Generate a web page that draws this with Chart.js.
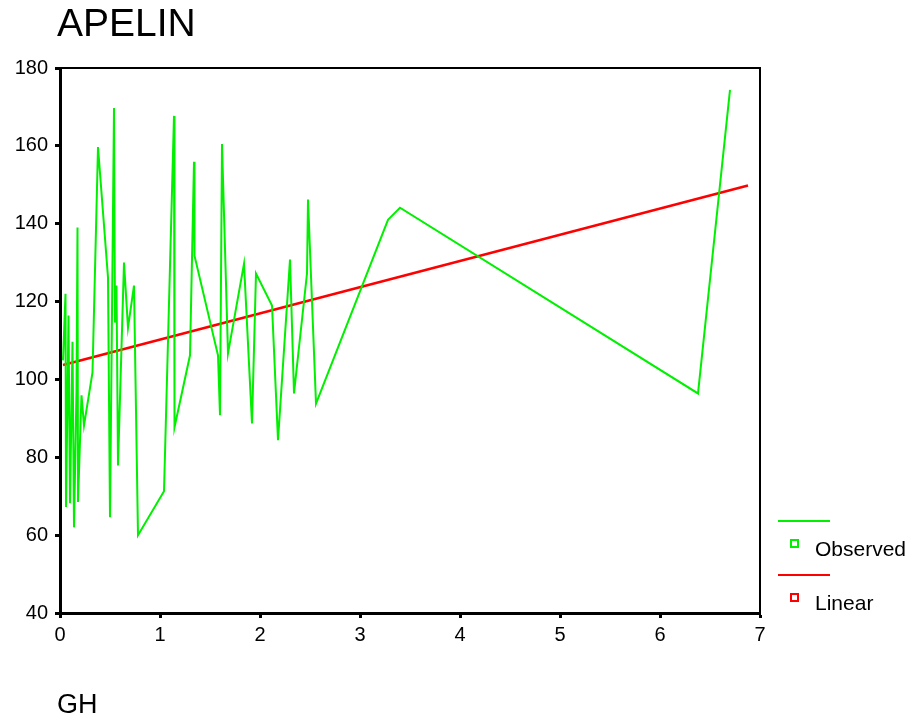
<!DOCTYPE html>
<html>
<head>
<meta charset="utf-8">
<script src="https://cdn.jsdelivr.net/npm/chart.js@4/dist/chart.umd.min.js"></script>
<style>
  body { margin: 0; background: #fff; }
  #wrap { width: 920px; height: 724px; }
</style>
</head>
<body>
<div id="wrap"><canvas id="myChart" width="920" height="724"></canvas></div>
<script>
// observed APELIN values, ordered by GH
var ghValues = [0.03, 0.055, 0.06, 0.075, 0.085, 0.10, 0.11, 0.125, 0.14, 0.165, 0.175, 0.18,
    0.215, 0.24, 0.325, 0.38, 0.48, 0.50, 0.54, 0.55, 0.565, 0.58, 0.64, 0.68, 0.74, 0.78,
    1.04, 1.14, 1.145, 1.30, 1.34, 1.345, 1.58, 1.60, 1.62, 1.68, 1.84, 1.92, 1.96, 2.12,
    2.18, 2.30, 2.34, 2.47, 2.48, 2.56, 3.28, 3.40, 6.38, 6.70];
var apelinValues = [104.9, 122, 67.2, 95.1, 116.4, 68.2, 84.4, 109.7, 62, 97.2, 139, 68.5,
    95.9, 88.2, 101.8, 159.7, 126.2, 64.6, 169.7, 114.6, 124.1, 77.9, 130, 113.3, 124.1, 60,
    71.3, 167.7, 87.7, 106.2, 155.9, 131.8, 106.2, 90.8, 160.5, 106.7, 129.7, 88.7, 127.2, 119,
    84.4, 130.8, 96.4, 127.2, 146.2, 93.8, 141, 144.1, 96.4, 174.4];

// linear fit line
var linearX = [0.03, 6.88];
var linearY = [103.7, 149.8];

var xTicks = [0, 1, 2, 3, 4, 5, 6, 7];
var yTicks = [40, 60, 80, 100, 120, 140, 160, 180];

var legendLabels = ['Observed', 'Linear'];
var green = '#00f000';
var red = '#ff0000';
var font = 'Liberation Sans, Arial, sans-serif';

function toPoints(xs, ys) {
    var pts = [];
    for (var i = 0; i < xs.length; i++) pts.push({ x: xs[i], y: ys[i] });
    return pts;
}

var extras = {
    id: 'extras',
    afterDraw: function (chart) {
        var c = chart.ctx;
        var a = chart.chartArea;
        c.save();
        // frame top / right
        c.strokeStyle = '#000';
        c.lineWidth = 2;
        c.beginPath();
        c.moveTo(a.left, a.top);
        c.lineTo(a.right, a.top);
        c.lineTo(a.right, a.bottom);
        c.stroke();

        c.fillStyle = '#000';
        c.textBaseline = 'alphabetic';
        c.textAlign = 'left';
        c.font = '39px ' + font;
        c.fillText('APELIN', 57, 36);
        c.font = '27px ' + font;
        c.fillText('GH', 57, 713);

        // legend
        var cols = [green, red];
        for (var i = 0; i < legendLabels.length; i++) {
            var y0 = 521 + i * 54;
            c.strokeStyle = cols[i];
            c.lineWidth = 2;
            c.beginPath();
            c.moveTo(778, y0);
            c.lineTo(830, y0);
            c.stroke();
            c.strokeRect(791, y0 + 19, 7, 7);
            c.fillStyle = '#000';
            c.font = '21px ' + font;
            c.textBaseline = 'middle';
            c.fillText(legendLabels[i], 815, y0 + 29);
        }
        c.restore();
    }
};

new Chart(document.getElementById('myChart'), {
    type: 'scatter',
    data: {
        datasets: [
            {
                label: legendLabels[0],
                data: toPoints(ghValues, apelinValues),
                showLine: true,
                borderColor: green,
                borderWidth: 2,
                pointRadius: 0,
                tension: 0
            },
            {
                label: legendLabels[1],
                data: toPoints(linearX, linearY),
                showLine: true,
                borderColor: red,
                borderWidth: 2.5,
                pointRadius: 0
            }
        ]
    },
    options: {
        responsive: false,
        animation: false,
        devicePixelRatio: 1,
        layout: { padding: { top: 68, right: 160, left: 0, bottom: 0 } },
        plugins: { legend: { display: false }, tooltip: { enabled: false } },
        scales: {
            x: {
                type: 'linear',
                min: 0, max: 7,
                afterBuildTicks: function (s) { s.ticks = xTicks.map(function (v) { return { value: v }; }); },
                afterFit: function (s) { s.height = 111; },
                ticks: { color: '#000', font: { family: font, size: 20 }, padding: 5, maxRotation: 0 },
                grid: { drawOnChartArea: false, drawTicks: true, tickLength: 5, tickWidth: 3, tickColor: '#000' },
                border: { display: true, color: '#000', width: 3 }
            },
            y: {
                type: 'linear',
                min: 40, max: 180,
                afterBuildTicks: function (s) { s.ticks = yTicks.map(function (v) { return { value: v }; }); },
                afterFit: function (s) { s.width = 60; },
                ticks: { color: '#000', font: { family: font, size: 20 }, padding: 7 },
                grid: { drawOnChartArea: false, drawTicks: true, tickLength: 5, tickWidth: 3, tickColor: '#000' },
                border: { display: true, color: '#000', width: 3 }
            }
        }
    },
    plugins: [extras]
});
</script>
</body>
</html>
